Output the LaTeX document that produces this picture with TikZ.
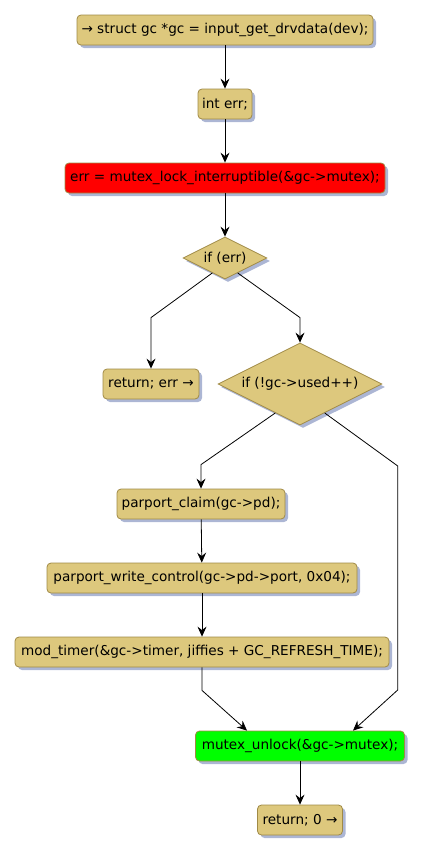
\documentclass[tikz,border=0pt]{standalone}
\usepackage{fontspec}
\setmainfont{DejaVu Sans}
\usepackage{tikz}
\usetikzlibrary{arrows.meta,shapes,shadows,calc}
\definecolor{actfill}{RGB}{221,200,125}
\definecolor{actline}{RGB}{160,138,70}
\definecolor{actshade}{RGB}{172,182,212}
\tikzset{
act/.style={draw=actline,fill=actfill,rounded corners=4pt,minimum height=30pt,inner xsep=3pt,
 font=\fontsize{13.6}{15}\selectfont,drop shadow={shadow xshift=3pt,shadow yshift=-3pt,fill=actshade,opacity=1}},
cond/.style={diamond,aspect=2,draw=actline,fill=actfill,inner sep=0pt,font=\fontsize{13.6}{15}\selectfont,
 drop shadow={shadow xshift=3pt,shadow yshift=-3pt,fill=actshade,opacity=1}}
}
\begin{document}
\begin{tikzpicture}[>={Stealth[length=10pt,width=9pt,inset=3.5pt]},x=1pt,y=-1pt,line width=0.8pt]
\useasboundingbox (0,0) rectangle (423,854);
\node[act,minimum width=296pt](getdata)at(225,30){→ struct gc *gc = input\_get\_drvdata(dev);};
\node[act,minimum width=54pt](interr)at(225,104){int err;};
\node[act,fill=red,minimum width=320pt](lock)at(225,178){err = mutex\_lock\_interruptible(\&gc->mutex);};
\node[cond,minimum width=84pt,minimum height=42pt](iferr)at(225,258){if (err)};
\node[act,minimum width=96pt](reterr)at(151,384){return; err →};
\node[cond,minimum width=164pt,minimum height=82pt](ifused)at(300,384){if (!gc->used++)};
\node[act,minimum width=168pt](claim)at(201,504){parport\_claim(gc->pd);};
\node[act,minimum width=310pt](wctrl)at(202,578){parport\_write\_control(gc->pd->port, 0x04);};
\node[act,minimum width=374pt](timer)at(202,652){mod\_timer(\&gc->timer, jiffies + GC\_REFRESH\_TIME);};
\node[act,fill=green,minimum width=209pt](unlock)at(300,746){mutex\_unlock(\&gc->mutex);};
\node[act,minimum width=85pt](retok)at(300,820){return; 0 →};
\draw[->](getdata)--(interr);
\draw[->](interr)--(lock);
\draw[->](lock)--(iferr);
\draw[->]($(iferr.south)!.3!(iferr.west)$)--($(reterr.north)+(0,-51)$)--(reterr.north);
\draw[->]($(iferr.south)!.3!(iferr.east)$)--($(ifused.north)+(0,-25)$)--(ifused.north);
\draw[->]($(ifused.south)!.3!(ifused.west)$)--($(claim.north)+(0,-24)$)--(claim.north);
\draw[->](claim)--(wctrl);
\draw[->](wctrl)--(timer);
\draw[->](timer.south)--++(0,23)--($(unlock.north)+(-53,0)$);
\draw[->]($(ifused.south)!.3!(ifused.east)$)--++(73,53)--++(0,224)--($(unlock.north)+(53,0)$);
\draw[->](unlock)--(retok);
\end{tikzpicture}
\end{document}
